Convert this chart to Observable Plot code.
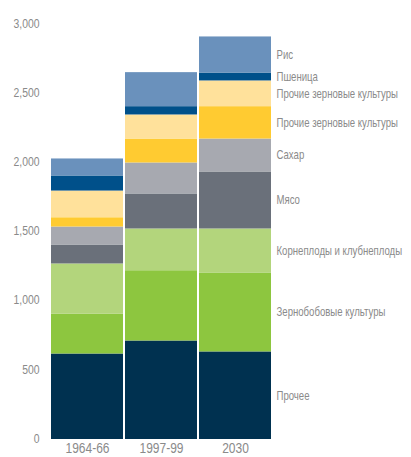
<!DOCTYPE html>
<html><head><meta charset="utf-8">
<script src="https://cdn.jsdelivr.net/npm/d3@7"></script>
<script src="https://cdn.jsdelivr.net/npm/@observablehq/plot@0.6"></script>
<style>
body{margin:0;background:#fff}
#chart svg{font-family:"Liberation Sans",Arial,sans-serif;}
</style>
</head><body><div id="chart"></div>
<script>
const periods = ["1964-66", "1997-99", "2030"];
// bottom to top
const categoryKeys = ["other", "pulses", "roots", "meat", "sugar", "grainsA", "grainsB", "wheat", "rice"];
const categoryLabels = ["Прочее", "Зернобобовые культуры", "Корнеплоды и клубнеплоды", "Мясо", "Сахар", "Прочие зерновые культуры", "Прочие зерновые культуры", "Пшеница", "Рис"];
const colors = ["#003150", "#8dc63f", "#b3d57c", "#6a707a", "#a7a9b0", "#ffcb31", "#ffe19b", "#00508a", "#6a91bc"];
const values1964 = [618, 289, 362, 137, 130, 67, 193, 109, 123];
const values1997 = [712, 508, 302, 253, 224, 173, 174, 60, 246];
const values2030 = [633, 571, 318, 412, 238, 234, 186, 57, 261];
const yTicks = [0, 500, 1000, 1500, 2000, 2500, 3000];

const seriesByPeriod = [values1964, values1997, values2030];
const rows = [];
periods.forEach((p, i) => {
  categoryKeys.forEach((k, j) => {
    rows.push({period: p, key: k, label: categoryLabels[j], value: seriesByPeriod[i][j]});
  });
});
const lastPeriod = periods[periods.length - 1];

const chart = Plot.plot({
  width: 411,
  height: 457,
  marginLeft: 50,
  marginRight: 139,
  marginTop: 24,
  marginBottom: 18,
  style: {color: "#8a8a8a", background: "#fff"},
  x: {domain: periods, paddingInner: 0.03, paddingOuter: 0, label: null},
  y: {domain: [0, 3000], label: null},
  color: {domain: categoryKeys, range: colors},
  marks: [
    Plot.barY(rows, Plot.stackY({x: "period", y: "value", fill: "key", z: "key", order: categoryKeys})),
    Plot.text(rows.filter(d => d.period === lastPeriod), Plot.stackY({
      x: "period", y: "value", z: "key", order: categoryKeys,
      text: "label", dx: 41, textAnchor: "start", fontSize: 12, fill: "#8a8a8a"
    })),
    Plot.axisY({ticks: yTicks, tickFormat: d3.format(","), tickSize: 0, tickPadding: 11, fontSize: 13, dy: -1}),
    Plot.axisX({tickSize: 0, tickPadding: 3, fontSize: 15})
  ]
});
document.getElementById("chart").appendChild(chart);
// narrow (condensed) look of the original typeface: squeeze each text horizontally about its anchor
chart.querySelectorAll("text").forEach(t => {
  const b = t.getBBox();
  if (!(b.width > 0)) return;
  const anchor = getComputedStyle(t).textAnchor;
  const ax = anchor === "end" ? b.x + b.width : anchor === "middle" ? b.x + b.width / 2 : b.x;
  const tr = t.getAttribute("transform") || "";
  t.setAttribute("transform", `${tr} translate(${ax},0) scale(0.8,1) translate(${-ax},0)`);
});
</script>
</body></html>
